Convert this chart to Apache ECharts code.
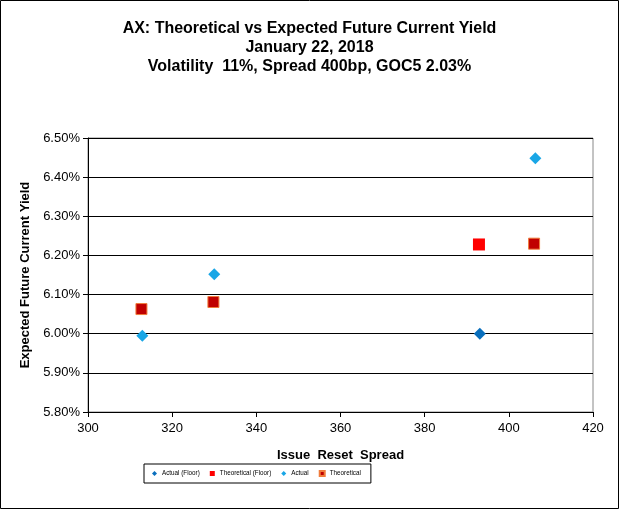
<!DOCTYPE html>
<html><head><meta charset="utf-8">
<script src="https://cdn.jsdelivr.net/npm/echarts@6/dist/echarts.min.js"></script>
<style>html,body{margin:0;padding:0;background:#fff}#c{width:619px;height:509px}</style>
</head><body><div id="c"></div>
<script>
const titleLines = ['AX: Theoretical vs Expected Future Current Yield','January 22, 2018','Volatility  11%, Spread 400bp, GOC5 2.03%'];
const xTicks = [300,320,340,360,380,400,420];
const yTicks = [5.80,5.90,6.00,6.10,6.20,6.30,6.40,6.50];
const seriesNames = ['Actual (Floor)','Theoretical (Floor)','Actual','Theoretical'];
const actualFloor = [[393.1, 6.000]];
const theoreticalFloor = [[392.9, 6.228]];
const actual = [[312.9, 5.995],[330.0, 6.152],[406.3, 6.448]];
const theoretical = [[312.7, 6.063],[329.8, 6.081],[406.0, 6.230]];

const chart = echarts.init(document.getElementById('c'));
const ff = 'Liberation Sans, Arial, sans-serif';
chart.setOption({
  animation:false,
  backgroundColor:'#fff',
  graphic:[{type:'rect',shape:{x:0.5,y:0.5,width:618,height:508},style:{fill:'none',stroke:'#000',lineWidth:1},silent:true}],
  title:{text:titleLines.join('\n'),left:'center',top:14,textStyle:{fontFamily:ff,fontSize:16,fontWeight:'bold',lineHeight:19,color:'#000'}},
  grid:{left:88,right:26,top:138,bottom:97,show:true,borderColor:'#888',borderWidth:1},
  legend:{bottom:26,left:144,itemWidth:5,itemHeight:5,itemGap:10,padding:[6,10,6,8],borderColor:'#000',borderWidth:1,
    textStyle:{fontFamily:ff,fontSize:6.3,color:'#000'},data:seriesNames},
  xAxis:{type:'value',min:xTicks[0],max:xTicks[xTicks.length-1],interval:20,
    name:'Issue  Reset  Spread',nameLocation:'middle',nameGap:37,
    nameTextStyle:{fontFamily:ff,fontSize:13,fontWeight:'bold',color:'#000'},
    axisLine:{lineStyle:{color:'#000'}},axisTick:{show:true,length:5,lineStyle:{color:'#000'}},
    axisLabel:{fontFamily:ff,fontSize:13,color:'#000',margin:10},splitLine:{show:false}},
  yAxis:{type:'value',min:yTicks[0],max:yTicks[yTicks.length-1],interval:0.1,
    name:'Expected Future Current Yield',nameLocation:'middle',nameGap:55,
    nameTextStyle:{fontFamily:ff,fontSize:13,fontWeight:'bold',color:'#000'},
    axisLine:{show:true,lineStyle:{color:'#000'}},axisTick:{show:true,length:5,inside:false,lineStyle:{color:'#000'}},
    axisLabel:{fontFamily:ff,fontSize:13,color:'#000',margin:8,formatter:v=>v.toFixed(2)+'%'},
    splitLine:{show:true,lineStyle:{color:'#000',width:1}}},
  series:[
    {name:seriesNames[0],type:'scatter',symbol:'diamond',symbolSize:12,data:actualFloor,itemStyle:{color:'#0a6fbd',opacity:1},z:3},
    {name:seriesNames[1],type:'scatter',symbol:'rect',symbolSize:12,data:theoreticalFloor,itemStyle:{color:'#ff0000',opacity:1},z:3},
    {name:seriesNames[2],type:'scatter',symbol:'diamond',symbolSize:12,data:actual,itemStyle:{color:'#19a6e6',opacity:1},z:3},
    {name:seriesNames[3],type:'scatter',symbol:'rect',symbolSize:11,data:theoretical,itemStyle:{color:'#c00000',borderColor:'#f07c3c',borderWidth:1,opacity:1},z:3}
  ]
});
</script></body></html>
